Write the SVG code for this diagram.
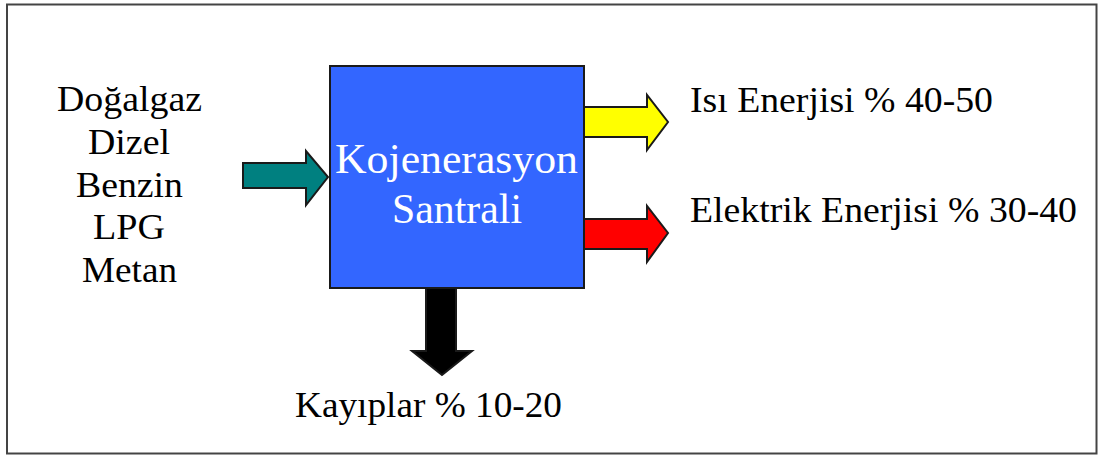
<svg xmlns="http://www.w3.org/2000/svg" width="1099" height="456" viewBox="0 0 1099 456">
<style>
.t{font-family:"Liberation Serif","Times New Roman",serif;fill:#000;font-size:35px;}
.w{font-family:"Liberation Serif","Times New Roman",serif;fill:#fff;font-size:42px;}
.arr{stroke:#1a1a1a;stroke-width:2;stroke-linejoin:miter;}
</style>
<rect x="0" y="0" width="1099" height="456" fill="#fff"/>
<rect x="7" y="4.5" width="1089.5" height="449" fill="none" stroke="#444" stroke-width="2"/>
<g id="inputs">
<text class="t" x="57" y="111" textLength="145" lengthAdjust="spacingAndGlyphs">Doğalgaz</text>
<text class="t" x="88" y="154" textLength="82" lengthAdjust="spacingAndGlyphs">Dizel</text>
<text class="t" x="76" y="197" textLength="107" lengthAdjust="spacingAndGlyphs">Benzin</text>
<text class="t" x="93" y="239" textLength="72" lengthAdjust="spacingAndGlyphs">LPG</text>
<text class="t" x="82" y="282" textLength="95" lengthAdjust="spacingAndGlyphs">Metan</text>
</g>
<g id="connectors">
<polygon class="arr" fill="#008080" points="243,163 306,163 306,151 328,177 306,205 306,188 243,188"/>
<polygon class="arr" fill="#ffff00" points="584,107 647,107 647,95 668,122 647,150 647,137 584,137"/>
<polygon class="arr" fill="#ff0000" points="584,219 647,219 647,206 668,233 647,262 647,249 584,249"/>
<polygon class="arr" fill="#000" points="426,288 456,288 456,351 472,351 442,375 412,351 426,351"/>
</g>
<g id="plant">
<rect x="330" y="66" width="254" height="222" fill="#3366ff" stroke="#1a1a1a" stroke-width="2"/>
<text class="w" x="335" y="173" textLength="243" lengthAdjust="spacingAndGlyphs">Kojenerasyon</text>
<text class="w" x="392" y="223" textLength="130" lengthAdjust="spacingAndGlyphs">Santrali</text>
</g>
<g id="heat">
<text class="t" x="690" y="112" textLength="303" lengthAdjust="spacingAndGlyphs">Isı Enerjisi % 40-50</text>
</g>
<g id="electric">
<text class="t" x="690" y="222" textLength="387" lengthAdjust="spacingAndGlyphs">Elektrik Enerjisi % 30-40</text>
</g>
<g id="losses">
<text class="t" x="295" y="417" textLength="267" lengthAdjust="spacingAndGlyphs">Kayıplar % 10-20</text>
</g>
</svg>
